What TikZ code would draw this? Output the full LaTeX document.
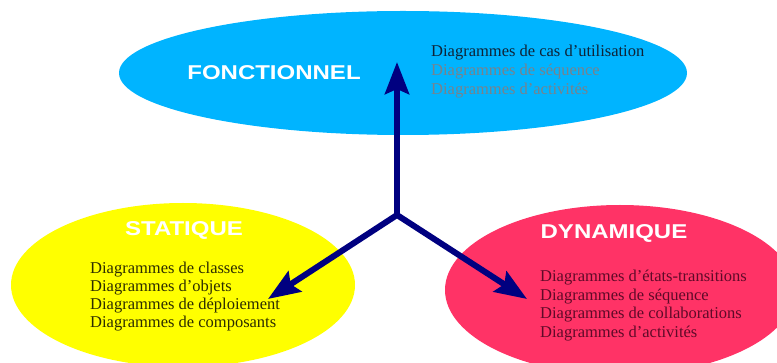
\documentclass[tikz,border=0pt]{standalone}
\usepackage{fontspec}
\setmainfont{Liberation Serif}
\newfontfamily\titlefont{Liberation Sans}
\usetikzlibrary{shapes.geometric,arrows.meta}
\definecolor{fonccyan}{RGB}{0,180,255}
\definecolor{statyellow}{RGB}{255,255,0}
\definecolor{dynpink}{RGB}{255,51,102}
\definecolor{axisnavy}{RGB}{0,0,128}
\definecolor{txtdarkblue}{RGB}{15,35,55}
\definecolor{txtgrey}{RGB}{120,130,140}
\definecolor{txtolive}{RGB}{45,45,0}
\definecolor{txtwine}{RGB}{95,10,40}
\begin{document}
\begin{tikzpicture}[x=1pt,y=-1pt,
  zone/.style={ellipse, inner sep=0pt},
  title/.style={text=white, inner sep=0pt, font=\titlefont\bfseries\fontsize{20}{24}\selectfont},
  list/.style={align=left, anchor=base west, inner sep=0pt},
  axis/.style={draw=axisnavy, line width=6pt, line cap=round,
    -{Stealth[length=32pt,width=24pt,inset=5pt,line cap=butt]}}]
\useasboundingbox (0,0) rectangle (777,363);

% the three views
\node[zone, fill=fonccyan,   minimum width=568pt, minimum height=124pt] (fonc) at (403,73) {};
\node[zone, fill=statyellow, minimum width=344pt, minimum height=164pt] (stat) at (183,285) {};
\node[zone, fill=dynpink,    minimum width=350pt, minimum height=170pt] (dyn)  at (620,290) {};

% titles
\node[title] (foncT) at (274,72.5) {\scalebox{1.2}[1]{FONCTIONNEL}};
\node[title] (statT) at (184,230)  {\scalebox{1.2}[1]{STATIQUE}};
\node[title] (dynT)  at (614,233)  {\scalebox{1.2}[1]{DYNAMIQUE}};

% diagram lists (anchored on the baseline of their last line)
\node[list, text=txtdarkblue, font=\fontsize{16.5}{19.2}\selectfont] (foncL) at (431,95)
  {Diagrammes de cas d'utilisation\\
  \textcolor{txtgrey}{Diagrammes de séquence}\\
  \textcolor{txtgrey}{Diagrammes d'activités}};
\node[list, text=txtolive, font=\fontsize{16.5}{18}\selectfont] (statL) at (90,328)
  {Diagrammes de classes\\
  Diagrammes d'objets\\
  Diagrammes de déploiement\\
  Diagrammes de composants};
\node[list, text=txtwine, font=\fontsize{16.5}{18.7}\selectfont] (dynL) at (540,337.7)
  {Diagrammes d'états-transitions\\
  Diagrammes de séquence\\
  Diagrammes de collaborations\\
  Diagrammes d'activités};

% axes
\coordinate (hub)   at (397,215);
\coordinate (upTip) at (397,62);
\coordinate (lfTip) at (268,299);
\coordinate (rtTip) at (527,299);
\draw[axis] (hub) -- (upTip);
\draw[axis] (hub) -- (lfTip);
\draw[axis] (hub) -- (rtTip);
\end{tikzpicture}
\end{document}
